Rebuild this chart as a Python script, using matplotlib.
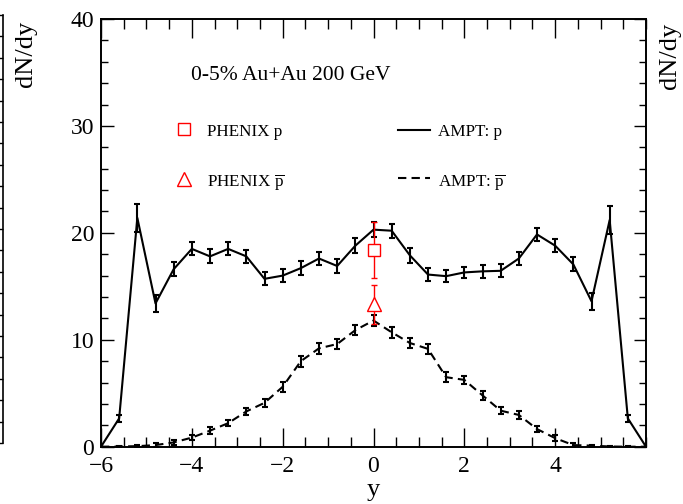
import matplotlib
matplotlib.use('Agg')
import matplotlib.pyplot as plt
from matplotlib.ticker import MultipleLocator

plt.rcParams['font.family'] = ['Liberation Serif', 'DejaVu Serif']
plt.rcParams['mathtext.fontset'] = 'custom'
plt.rcParams['mathtext.rm'] = 'Liberation Serif'

# AMPT rapidity points
rap = [-6.0, -5.6, -5.2, -4.8, -4.4, -4.0, -3.6, -3.2, -2.8, -2.4, -2.0, -1.6,
       -1.2, -0.8, -0.4, 0.0, 0.4, 0.8, 1.2, 1.6, 2.0, 2.4, 2.8, 3.2, 3.6, 4.0,
       4.4, 4.8, 5.2, 5.6, 6.0]
ampt_p = [0, 2.65, 21.4, 13.4, 16.6, 18.5, 17.8, 18.5, 17.8, 15.7, 16.0, 16.7,
          17.6, 16.9, 18.8, 20.3, 20.2, 17.9, 16.1, 15.95, 16.3, 16.4, 16.45, 17.6,
          19.85, 18.8, 17.05, 13.6, 21.2, 2.65, 0]
ampt_p_err = [0, 0.3, 1.3, 0.8, 0.65, 0.6, 0.65, 0.6, 0.6, 0.6, 0.6, 0.65,
              0.65, 0.65, 0.7, 0.7, 0.65, 0.7, 0.6, 0.55, 0.55, 0.6, 0.6, 0.6,
              0.65, 0.6, 0.65, 0.8, 1.3, 0.3, 0]
ampt_pbar = [0, 0.02, 0.05, 0.15, 0.4, 0.85, 1.5, 2.2, 3.3, 4.1, 5.6, 8.0,
             9.2, 9.6, 10.9, 11.8, 10.7, 9.7, 9.15, 6.5, 6.25, 4.8, 3.37, 2.97,
             1.65, 0.8, 0.15, 0.1, 0.02, 0.0, 0]
ampt_pbar_err = [0, 0.05, 0.1, 0.15, 0.2, 0.25, 0.3, 0.3, 0.35, 0.4, 0.45, 0.5,
                 0.5, 0.5, 0.5, 0.5, 0.5, 0.45, 0.45, 0.45, 0.4, 0.4, 0.35, 0.35,
                 0.3, 0.25, 0.15, 0.1, 0.05, 0.05, 0]

# PHENIX midrapidity
phenix_y = [0.0]
phenix_p = [18.4]
phenix_p_err = [2.6]
phenix_pbar = [13.3]
phenix_pbar_err = [1.85]

fig = plt.figure(figsize=(6.83, 5.04), dpi=100)

# right edge of the neighbouring panel
axl = fig.add_axes([-0.3, 61 / 504, 0.3 + 2.7 / 683, 428 / 504])
axl.set_xlim(0, 1)
axl.set_ylim(0, 40)
for s in ['left', 'top', 'bottom']:
    axl.spines[s].set_visible(False)
axl.spines['right'].set_linewidth(1.2)
axl.set_xticks([])
axl.yaxis.set_major_locator(MultipleLocator(2))
axl.tick_params(axis='y', left=False, right=True, labelleft=False,
                direction='in', length=5, width=1)

ax = fig.add_axes([101 / 683, (504 - 446.7) / 504, 545 / 683, 427.7 / 504])

red = '#ff0000'
ax.errorbar(rap, ampt_p, yerr=ampt_p_err, color='black', lw=1.5,
            elinewidth=1.5, capsize=2.5, capthick=1.5, zorder=3)
ax.errorbar(rap, ampt_pbar, yerr=ampt_pbar_err, color='black', lw=1.5,
            dashes=(4, 2.5), elinewidth=1.5, capsize=2.5, capthick=1.5, zorder=3)
ax.errorbar(phenix_y, phenix_p, yerr=phenix_p_err, fmt='s', color=red,
            mfc='white', mec=red, ms=9, mew=1.0, elinewidth=1.0,
            capsize=2.5, capthick=1.0, zorder=4)
ax.errorbar(phenix_y, phenix_pbar, yerr=phenix_pbar_err, fmt='^', color=red,
            mfc='white', mec=red, ms=10, mew=1.0, elinewidth=1.0,
            capsize=2.5, capthick=1.0, zorder=4)

ax.set_xlim(-6, 6)
ax.set_ylim(0, 40)
ax.xaxis.set_major_locator(MultipleLocator(2))
ax.xaxis.set_minor_locator(MultipleLocator(0.5))
ax.yaxis.set_major_locator(MultipleLocator(10))
ax.yaxis.set_minor_locator(MultipleLocator(2))
ax.set_xticks([-6, -4, -2, 0, 2, 4])
ax.tick_params(axis='x', which='major', direction='in', top=True, length=14, width=1,
               labelsize=17, pad=7)
ax.tick_params(axis='x', which='minor', direction='in', top=True, length=7, width=1)
ax.tick_params(axis='y', which='major', direction='in', right=True, length=9, width=1,
               labelsize=17, pad=5)
ax.tick_params(axis='y', which='minor', direction='in', right=True, length=5, width=1)
for s in ax.spines.values():
    s.set_linewidth(1.4)

ax.set_xlabel('y', fontsize=19, labelpad=1)

# key
ax.text(-4.02, 34.3, '0-5% Au+Au 200 GeV', fontsize=15.5, va='baseline', ha='left')
ax.plot([-4.17], [29.7], 's', color=red, mfc='white', ms=9, mew=1.0)
ax.text(-3.66, 29.1, 'PHENIX p', fontsize=12.3, va='baseline', ha='left')
ax.plot([-4.17], [25.0], '^', color=red, mfc='white', ms=10, mew=1.0)
ax.text(-3.66, 24.4, r'PHENIX $\overline{\mathrm{p}}$', fontsize=12.3, va='baseline', ha='left')
ax.plot([0.53, 1.24], [29.6, 29.6], color='black', lw=1.5)
ax.text(1.43, 29.1, 'AMPT: p', fontsize=12.3, va='baseline', ha='left')
ax.plot([0.53, 1.24], [25.1, 25.1], color='black', lw=1.5, dashes=(4, 2.5))
ax.text(1.43, 24.4, r'AMPT: $\overline{\mathrm{p}}$', fontsize=12.3, va='baseline', ha='left')

# axis titles of the neighbouring panels
fig.text(26 / 683, 1 - 54 / 504, 'dN/dy', rotation=90, fontsize=19,
         ha='center', va='center')
fig.text(670 / 683, 1 - 56 / 504, 'dN/dy', rotation=90, fontsize=19,
         ha='center', va='center')

fig.savefig('out.png', dpi=100)
